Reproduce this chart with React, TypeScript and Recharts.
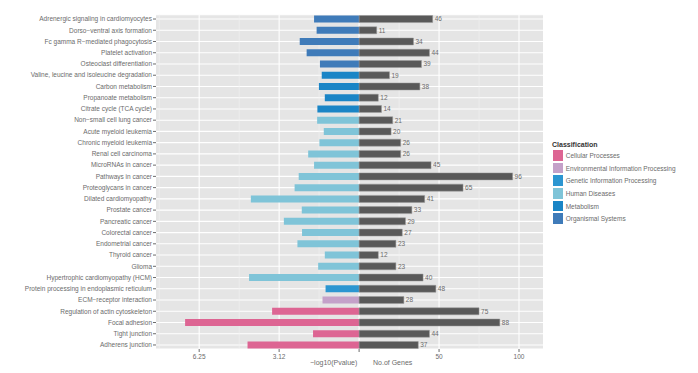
import React from "react";
import {
  BarChart,
  Bar,
  XAxis,
  YAxis,
  CartesianGrid,
  Cell,
  LabelList,
} from "recharts";

// pathways, top to bottom
const categories = [
  "Adrenergic signaling in cardiomyocytes",
  "Dorso−ventral axis formation",
  "Fc gamma R−mediated phagocytosis",
  "Platelet activation",
  "Osteoclast differentiation",
  "Valine, leucine and isoleucine degradation",
  "Carbon metabolism",
  "Propanoate metabolism",
  "Citrate cycle (TCA cycle)",
  "Non−small cell lung cancer",
  "Acute myeloid leukemia",
  "Chronic myeloid leukemia",
  "Renal cell carcinoma",
  "MicroRNAs in cancer",
  "Pathways in cancer",
  "Proteoglycans in cancer",
  "Dilated cardiomyopathy",
  "Prostate cancer",
  "Pancreatic cancer",
  "Colorectal cancer",
  "Endometrial cancer",
  "Thyroid cancer",
  "Glioma",
  "Hypertrophic cardiomyopathy (HCM)",
  "Protein processing in endoplasmic reticulum",
  "ECM−receptor interaction",
  "Regulation of actin cytoskeleton",
  "Focal adhesion",
  "Tight junction",
  "Adherens junction",
];

const classification = [
  "Organismal Systems", "Organismal Systems", "Organismal Systems", "Organismal Systems", "Organismal Systems",
  "Metabolism", "Metabolism", "Metabolism", "Metabolism",
  "Human Diseases", "Human Diseases", "Human Diseases", "Human Diseases", "Human Diseases",
  "Human Diseases", "Human Diseases", "Human Diseases", "Human Diseases", "Human Diseases",
  "Human Diseases", "Human Diseases", "Human Diseases", "Human Diseases", "Human Diseases",
  "Genetic Information Processing",
  "Environmental Information Processing",
  "Cellular Processes", "Cellular Processes", "Cellular Processes", "Cellular Processes",
];

// -log10(Pvalue)
const negLogP = [
  1.76, 1.66, 2.32, 2.05, 1.53, 1.46, 1.57, 1.34, 1.63, 1.64,
  1.38, 1.55, 1.99, 1.76, 2.36, 2.52, 4.23, 2.24, 2.94, 2.23,
  2.41, 1.34, 1.6, 4.3, 1.31, 1.43, 3.4, 6.8, 1.8, 4.36,
];

const geneCounts = [
  46, 11, 34, 44, 39, 19, 38, 12, 14, 21,
  20, 26, 26, 45, 96, 65, 41, 33, 29, 27,
  23, 12, 23, 40, 48, 28, 75, 88, 44, 37,
];

const classNames = [
  "Cellular Processes",
  "Environmental Information Processing",
  "Genetic Information Processing",
  "Human Diseases",
  "Metabolism",
  "Organismal Systems",
];
const classColors = ["#DD6593", "#C4A1C9", "#2C96D1", "#7FC4D8", "#1A85C6", "#3F7BB9"];

// left side is drawn on the gene axis: 100 units = 6.25
const SCALE = 16;
const X_DOMAIN = [-127, 115];
const majorTicks = [-100, -50, 0, 50, 100];
const minorTicks = [-125, -75, -25, 25, 75];

const data = categories.map((name, i) => ({
  name,
  p: -negLogP[i] * SCALE,
  genes: geneCounts[i],
  cls: classification[i],
}));

const colorOf = (c: string) => classColors[classNames.indexOf(c)];

const fmtX = (v: number) => {
  if (v < 0) return String(Math.floor((-v / SCALE) * 100) / 100);
  if (v === 0) return "";
  return String(v);
};

const FONT = "'Liberation Sans', Arial, sans-serif";
const TXT = "#6b6b6b";

const toPx = (ticks: number[]) => ({ offset }: any) =>
  ticks.map((t) => offset.left + ((t - X_DOMAIN[0]) / (X_DOMAIN[1] - X_DOMAIN[0])) * offset.width);

const YTick = ({ x, y, payload }: any) => (
  <text x={x} y={y} dy="0.35em" textAnchor="end" fontSize={6.5} fill={TXT} fontFamily={FONT}>
    {payload.value}
  </text>
);

export default function App() {
  return (
    <div style={{ position: "absolute", left: 0, top: 0, width: 698, height: 373, background: "#fff", fontFamily: FONT }}>
      <BarChart
        width={698}
        height={373}
        data={data}
        layout="vertical"
        stackOffset="sign"
        barCategoryGap="19%"
        margin={{ top: 14.7, right: 155, bottom: 0, left: 0 }}
      >
        <CartesianGrid fill="#E5E5E5" stroke="#fff" strokeWidth={1.1} verticalCoordinatesGenerator={toPx(majorTicks)} />
        <CartesianGrid horizontal={false} stroke="#F3F3F3" strokeWidth={0.6} verticalCoordinatesGenerator={toPx(minorTicks)} />
        <XAxis
          type="number"
          domain={X_DOMAIN}
          ticks={majorTicks}
          tickFormatter={fmtX}
          height={24}
          axisLine={false}
          tickSize={3}
          tickLine={{ stroke: TXT }}
          tick={{ fontSize: 6.5, fill: TXT, fontFamily: FONT }}
        />
        <YAxis
          type="category"
          dataKey="name"
          width={156}
          interval={0}
          padding={{ top: -1.3, bottom: -1.6 }}
          axisLine={false}
          tickSize={3}
          tickMargin={1}
          tickLine={{ stroke: TXT }}
          tick={<YTick />}
        />
        <Bar dataKey="p" stackId="a" isAnimationActive={false}>
          {data.map((d, i) => (
            <Cell key={`c-${i}`} fill={colorOf(d.cls)} />
          ))}
        </Bar>
        <Bar dataKey="genes" stackId="a" fill="#595959" stroke="#9a9a9a" strokeWidth={0.5} isAnimationActive={false}>
          <LabelList dataKey="genes" position="right" offset={2} style={{ fontSize: 6.5, fill: TXT, fontFamily: FONT }} />
        </Bar>
      </BarChart>

      <div style={{ position: "absolute", left: 310, top: 359, fontSize: 7, color: TXT, whiteSpace: "nowrap" }}>
        −log10(Pvalue)
      </div>
      <div style={{ position: "absolute", left: 373, top: 359, fontSize: 7, color: TXT, whiteSpace: "nowrap" }}>
        No.of Genes
      </div>

      <div style={{ position: "absolute", left: 552, top: 141, fontSize: 7 }}>
        <div style={{ fontWeight: "bold", color: "#333", marginBottom: 1, whiteSpace: "nowrap" }}>Classification</div>
        {classNames.map((c, i) => (
          <div key={c} style={{ display: "flex", alignItems: "center", height: 12.7 }}>
            <div style={{ width: 11.7, height: 12.7, background: classColors[i], boxSizing: "border-box", border: "0.5px solid #fff" }} />
            <span style={{ marginLeft: 2, color: TXT, whiteSpace: "nowrap", fontSize: 6.5 }}>{c}</span>
          </div>
        ))}
      </div>
    </div>
  );
}
